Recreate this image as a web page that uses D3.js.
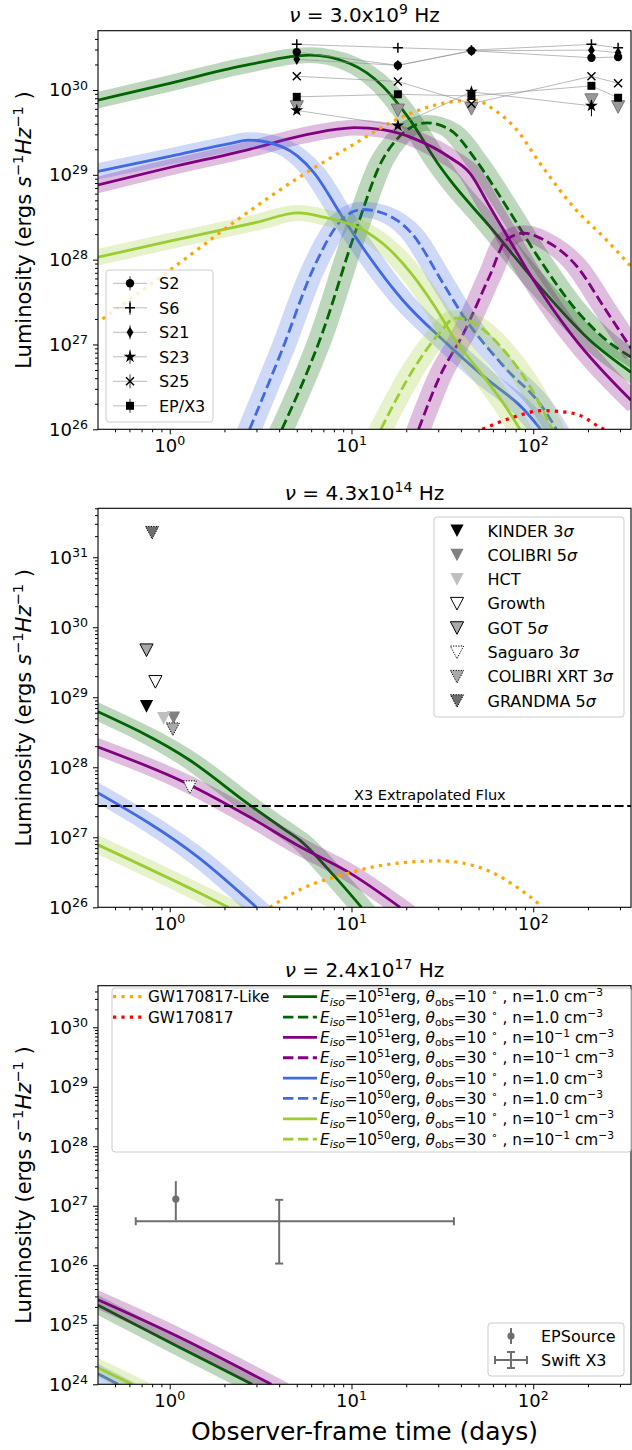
<!DOCTYPE html>
<html>
<head>
<meta charset="utf-8">
<script src="https://cdn.jsdelivr.net/npm/d3@7"></script>
<style>
  body { margin: 0; background: #fff; }
  text { font-family: "DejaVu Sans", sans-serif; fill: #000; }
</style>
</head>
<body>
<svg id="fig" width="632" height="1450"></svg>
<script>
// ---------------- data (time in days, luminosity in erg/s/Hz) ----------------
var xDomain = [0.403, 345];
var xTickExp = [0, 1, 2];

// radio 3 GHz models
var R_E51_10_n1  = [[0.403,7.6e29],[1,1.2e30],[2.75,2.0e30],[5.9,2.57e30],[9.8,2.05e30],[14.9,1.1e30],[20.9,4.5e29],[30.6,1.26e29],[34.8,8.7e28],[57.7,2.45e28],[108.6,4.8e27],[205,1.12e27],[345,4.7e26]];
var R_E51_30_n1  = [[4.14,1e26],[6.9,1.35e27],[10.4,2.0e28],[14.8,1.5e29],[17.7,2.6e29],[22.8,3.9e29],[25.9,4.1e29],[34.8,3.4e29],[48.8,1.45e29],[71.3,4.2e28],[108.6,1.0e28],[166,2.8e27],[253,1.12e27],[345,7.1e26]];
var R_E51_10_n01 = [[0.403,7.6e28],[1,1.22e29],[2.75,2.0e29],[5,2.8e29],[8,3.4e29],[10.4,3.6e29],[14.8,3.4e29],[22.8,2.6e29],[34.8,1.6e29],[44.8,1.05e29],[57.7,4.2e28],[69,2.2e28],[100,5.8e27],[166,1.23e27],[345,2.2e26]];
var R_E51_30_n01 = [[23.4,1e26],[30.6,4.2e26],[41.3,1.35e27],[57.7,6.5e27],[71,1.7e28],[89,2.05e28],[115,1.7e28],[174,8.3e27],[245,2.75e27],[345,9.0e26]];
var R_E50_10_n1  = [[0.403,1.1e29],[1,1.65e29],[2.2,2.36e29],[2.7,2.57e29],[4.14,2.15e29],[6.24,1.05e29],[8.9,3.2e28],[11.5,1.4e28],[19.2,3.3e27],[32,1.12e27],[53.3,4.2e26],[89,1.7e26],[110,1e26]];
var R_E50_30_n1  = [[2.75,1e26],[4.14,8.5e26],[6.24,8.3e27],[8.9,3.0e28],[11.5,3.9e28],[14.8,3.55e28],[21.4,2.05e28],[32,5.2e27],[41.3,2.15e27],[69,5.5e26],[115,1.7e26],[134,1e26]];
var R_E50_10_n01 = [[0.403,1.07e28],[1,1.65e28],[3,2.75e28],[5.1,3.55e28],[6.9,3.2e28],[11.5,2.25e28],[15.7,1.4e28],[21.3,6.9e27],[28.9,2.75e27],[37.3,1.12e27],[53.3,4.2e26],[72.4,1.7e26],[84.5,1e26]];
var R_E50_30_n01 = [[14.5,1e26],[22.4,5.5e26],[30.4,1.35e27],[37.3,2.05e27],[45.7,1.85e27],[69,8.5e26],[98.6,2.9e26],[127,1e26]];
var R_GWlike = [[0.427,2.0e27],[1.05,8.1e27],[2.48,3.2e28],[5.2,9.5e28],[9.8,2.15e29],[18.5,4.7e29],[34.7,7.2e29],[48.8,7.6e29],[57.7,6.3e29],[71.3,4.5e29],[81,3.4e29],[108.6,1.38e29],[166,4.2e28],[253,1.7e28],[345,8.3e27]];
var R_GW = [[52.5,1e26],[79.4,1.41e26],[112,1.66e26],[141,1.62e26],[182,1.45e26],[234,1.05e26],[245,1e26]];

// optical models
var O_E51_10_n1  = [[0.403,6.2e28],[1.29,1.26e28],[2.75,2.9e27],[4.17,1.35e27],[5.19,9.1e26],[7.94,2.9e26],[11.35,1e26]];
var O_E51_10_n01 = [[0.403,1.95e28],[1.29,5.6e27],[2.75,1.95e27],[5.19,7.4e26],[9.77,3.1e26],[18.5,1e26]];
var O_E50_10_n1  = [[0.403,4.3e27],[1.46,5.0e26],[3.0,1e26]];
var O_E50_10_n01 = [[0.403,7.8e26],[1.46,1.6e26],[2.1,1e26]];
var O_GWlike = [[3.55,1e26],[5.19,1.78e26],[9.77,3.1e26],[14.8,4.0e26],[30.6,4.6e26],[52.5,3.6e26],[81,1.95e26],[109,1.07e26],[112,1e26]];

// X-ray models
var X_E51_10_n1  = [[0.403,2.14e25],[1.08,4.5e24],[2.84,1e24]];
var X_E51_10_n01 = [[0.403,2.63e25],[1.08,6.6e24],[3.62,1e24]];
var X_E50_10_n1  = [[0.403,1.5e24],[0.52,1e24]];
var X_E50_10_n01 = [[0.403,1.9e24],[0.62,1e24]];

// model labels
var modelE     = ["51", "51", "51", "51", "50", "50", "50", "50"];
var modelTheta = ["10", "30", "10", "30", "10", "30", "10", "30"];
var modelN     = ["1.0", "1.0", "-1", "-1", "1.0", "1.0", "-1", "-1"];
var modelColor = ["#006400", "#006400", "#800080", "#800080", "#4169e1", "#4169e1", "#9acd32", "#9acd32"];
var modelDash  = [false, true, false, true, false, true, false, true];

// radio detections
var radioT  = [5.0, 18, 45.7, 209, 293];
var S2      = [2.8e30, 1.95e30, 2.9e30, 2.4e30, 2.45e30];
var S6      = [3.45e30, 3.15e30, 2.95e30, 3.45e30, 3.15e30];
var S21     = [2.3e30, 1.95e30, 2.9e30, 2.95e30, 2.75e30];
var S23     = [5.75e29, 3.8e29, 9.5e29, 6.5e29, null];
var S25     = [1.45e30, 1.26e30, 6.9e29, 1.45e30, 1.2e30];
var EPX3    = [8.3e29, 8.9e29, 8.5e29, 1.12e30, 8.1e29];
var S23lo   = [null, null, null, 4.9e29, null];
var S23hi   = [null, null, null, 7.6e29, null];
var radioUL = [6.3e29, 5.75e29, 6.0e29, 7.6e29, 6.3e29];
var radioNames = ["S2", "S6", "S21", "S23", "S25", "EP/X3"];

// optical upper limits
var optNames = ["KINDER 3σ", "COLIBRI 5σ", "HCT", "Growth", "GOT 5σ", "Saguaro 3σ", "COLIBRI XRT 3σ", "GRANDMA 5σ"];
var optT     = [0.745, 1.05, 0.926, 0.834, 0.745, 1.29, 1.04, 0.80];
var optL     = [7.4e28, 5.1e28, 5.0e28, 1.66e29, 4.7e29, 5.2e27, 3.5e28, 2.24e31];
var x3Flux   = 2.8e27;

// X-ray points
var epT = 1.08, epL = 1.3e27, epLo = 5.75e26, epHi = 2.6e27;
var swT = 4.0, swTLo = 0.65, swTHi = 36.6, swL = 5.5e26, swLLo = 1.07e26, swLHi = 1.26e27;

// ---------------- drawing ----------------
var svg = d3.select("#fig");
svg.append("rect").attr("width", 632).attr("height", 1450).attr("fill", "#fff");

var x = d3.scaleLog().domain(xDomain).range([98, 631]);
var bandK = 1.55;   // bands are a bit wider sideways than up/down

// text with super/subscripts as tspans
function rich(t, parts, fs) {
  var cur = 0;
  parts.forEach(function(p) {
    var st = (p[1] || "").split(" ");
    var sup = st.indexOf("sup") >= 0, sub = st.indexOf("sub") >= 0;
    var target = sup ? -0.38 * fs : sub ? 0.22 * fs : 0;
    var ts = t.append("tspan").text(p[0]);
    if (target !== cur) ts.attr("dy", target - cur);
    if (sup || sub) ts.attr("font-size", 0.7 * fs);
    if (st.indexOf("i") >= 0) ts.attr("font-style", "italic");
    cur = target;
  });
  return t;
}
function label(g, px, py, parts, fs, anchor) {
  var t = g.append("text").attr("x", px).attr("y", py).attr("font-size", fs)
    .attr("text-anchor", anchor || "start").style("white-space", "pre");
  return rich(t, parts, fs);
}
function sigmaParts(name) {
  var i = name.indexOf("σ");
  return i < 0 ? [[name]] : [[name.slice(0, i)], ["σ", "i"]];
}

var markerPath = {
  circle: d3.symbol(d3.symbolCircle, 55)(),
  square: d3.symbol(d3.symbolSquare, 64)(),
  star: d3.symbol(d3.symbolStar, 50)(),
  diamond: "M0,-5.6L3.4,0L0,5.6L-3.4,0Z",
  plus: "M-5,0H5M0,-5V5",
  x: "M-4,-4L4,4M-4,4L4,-4",
  tri: "M-6.6,-6.3L6.6,-6.3L0,6.3Z"
};
function marker(g, type, cx, cy, fill, stroke, dotted) {
  var m = g.append("path").attr("d", markerPath[type]).attr("transform", "translate(" + cx + "," + cy + ")");
  if (type === "plus" || type === "x") {
    m.attr("fill", "none").attr("stroke", "#000").attr("stroke-width", 1.5);
  } else {
    m.attr("fill", fill || "#000").attr("stroke", stroke || "none").attr("stroke-width", 1);
    if (dotted) m.attr("stroke-dasharray", "1.3,1.3");
  }
  return m;
}

var panels = [
  {top: 30.7, bottom: 429.3, yDomain: [1e26, 5e30], title: [["ν", "i"], [" = 3.0x10"], ["9", "sup"], [" Hz"]],
   models: [R_E51_10_n1, R_E51_30_n1, R_E51_10_n01, R_E51_30_n01, R_E50_10_n1, R_E50_30_n1, R_E50_10_n01, R_E50_30_n01],
   gwlike: R_GWlike, gw: R_GW},
  {top: 508.3, bottom: 907.3, yDomain: [1e26, 5e31], title: [["ν", "i"], [" = 4.3x10"], ["14", "sup"], [" Hz"]],
   models: [O_E51_10_n1, null, O_E51_10_n01, null, O_E50_10_n1, null, O_E50_10_n01, null],
   gwlike: O_GWlike, gw: null},
  {top: 985.7, bottom: 1384.3, yDomain: [1e24, 5e30], title: [["ν", "i"], [" = 2.4x10"], ["17", "sup"], [" Hz"]],
   models: [X_E51_10_n1, null, X_E51_10_n01, null, X_E50_10_n1, null, X_E50_10_n01, null],
   gwlike: null, gw: null}
];

panels.forEach(function(p, pi) {
  var y = d3.scaleLog().domain(p.yDomain).range([p.bottom, p.top]);
  p.y = y;
  var g = svg.append("g");
  var line = d3.line().x(function(d) { return x(d[0]); }).y(function(d) { return y(d[1]); }).curve(d3.curveMonotoneX);
  var bandLine = d3.line().x(function(d) { return x(d[0]) / bandK; }).y(function(d) { return y(d[1]); }).curve(d3.curveMonotoneX);

  svg.append("clipPath").attr("id", "clip" + pi).append("rect")
    .attr("x", x.range()[0]).attr("y", p.top).attr("width", x.range()[1] - x.range()[0]).attr("height", p.bottom - p.top);
  var plot = g.append("g").attr("clip-path", "url(#clip" + pi + ")");
  p.plot = plot;

  // afterglow models: shaded band + line
  p.models.forEach(function(data, mi) {
    if (!data) return;
    plot.append("g").attr("transform", "scale(" + bandK + ",1)")
      .append("path").datum(data).attr("d", bandLine).attr("fill", "none")
      .attr("stroke", modelColor[mi]).attr("stroke-width", 15.7).attr("stroke-linecap", "square")
      .attr("stroke-linejoin", "round").attr("opacity", 0.26);
    plot.append("path").datum(data).attr("d", line).attr("fill", "none")
      .attr("stroke", modelColor[mi]).attr("stroke-width", 2.8)
      .attr("stroke-dasharray", modelDash[mi] ? "10.4,4.5" : null);
  });
  if (p.gwlike) {
    plot.append("path").datum(p.gwlike).attr("d", line).attr("fill", "none")
      .attr("stroke", "#ffa500").attr("stroke-width", 3.2).attr("stroke-dasharray", "3.2,5.2");
  }
  if (p.gw) {
    plot.append("path").datum(p.gw).attr("d", line).attr("fill", "none")
      .attr("stroke", "#ff0000").attr("stroke-width", 3.2).attr("stroke-dasharray", "3.2,5.2");
  }

  // frame
  g.append("rect").attr("x", x.range()[0]).attr("y", p.top)
    .attr("width", x.range()[1] - x.range()[0]).attr("height", p.bottom - p.top)
    .attr("fill", "none").attr("stroke", "#000").attr("stroke-width", 1.1);

  // x ticks
  var xMajor = xTickExp.map(function(e) { return Math.pow(10, e); });
  var xMinor = [];
  for (var e = -1; e <= 2; e++) for (var m = 2; m <= 9; m++) {
    var v = m * Math.pow(10, e);
    if (v > xDomain[0] && v < xDomain[1]) xMinor.push(v);
  }
  var ax = g.append("g").attr("transform", "translate(0," + p.bottom + ")")
    .call(d3.axisBottom(x).tickValues(xMajor).tickSize(5).tickSizeOuter(0).tickFormat(function() { return ""; }));
  var axm = g.append("g").attr("transform", "translate(0," + p.bottom + ")")
    .call(d3.axisBottom(x).tickValues(xMinor).tickSize(3).tickSizeOuter(0).tickFormat(function() { return ""; }));
  xTickExp.forEach(function(e) {
    label(g, x(Math.pow(10, e)), p.bottom + 23, [["10"], [String(e), "sup"]], 18, "middle");
  });

  // y ticks
  var lo = Math.round(Math.log10(p.yDomain[0])), hi = Math.floor(Math.log10(p.yDomain[1]));
  var yExp = d3.range(lo, hi + 1);
  var yMinor = [];
  for (var e2 = lo; e2 <= hi; e2++) for (var m2 = 2; m2 <= 9; m2++) {
    var v2 = m2 * Math.pow(10, e2);
    if (v2 < p.yDomain[1]) yMinor.push(v2);
  }
  var ay = g.append("g").attr("transform", "translate(" + x.range()[0] + ",0)")
    .call(d3.axisLeft(y).tickValues(yExp.map(function(e) { return Math.pow(10, e); })).tickSize(5).tickSizeOuter(0).tickFormat(function() { return ""; }));
  var aym = g.append("g").attr("transform", "translate(" + x.range()[0] + ",0)")
    .call(d3.axisLeft(y).tickValues(yMinor).tickSize(3).tickSizeOuter(0).tickFormat(function() { return ""; }));
  [ax, axm, ay, aym].forEach(function(a) {
    a.select(".domain").remove();
    a.selectAll("line").attr("stroke", "#000").attr("stroke-width", 1);
  });
  yExp.forEach(function(e) {
    label(g, 88, y(Math.pow(10, e)) + 6.5, [["10"], [String(e), "sup"]], 18, "end");
  });

  // title and y label
  label(g, 364.5, p.top - 8.7, p.title, 20, "middle");
  var yl = g.append("text").attr("transform", "translate(31," + ((p.top + p.bottom) / 2) + ") rotate(-90)")
    .attr("font-size", 21).attr("text-anchor", "middle").style("white-space", "pre");
  rich(yl, [["Luminosity (ergs "], ["s", "i"], ["−1", "sup"], ["Hz", "i"], ["−1", "sup"], [" )"]], 21);
  p.g = g;
});

// ---------- panel 1 : radio detections ----------
(function() {
  var p = panels[0], y = p.y, g = p.g;
  var series = [S2, S6, S21, S23, S25, EPX3];
  var types = ["circle", "plus", "diamond", "star", "x", "square"];
  var conn = d3.line().x(function(d) { return x(d[0]); }).y(function(d) { return y(d[1]); });
  series.forEach(function(s) {
    g.append("path").datum(radioT.map(function(t, i) { return [t, s[i]]; }).filter(function(d) { return d[1] != null; }))
      .attr("d", conn).attr("fill", "none").attr("stroke", "#8c8c8c").attr("stroke-width", 0.6);
  });
  radioT.forEach(function(t, i) {
    marker(g, "tri", x(t), y(radioUL[i]), "#999", "#777");
  });
  radioT.forEach(function(t, i) {
    if (S23lo[i] != null) {
      g.append("line").attr("x1", x(t)).attr("x2", x(t)).attr("y1", y(S23lo[i])).attr("y2", y(S23hi[i]))
        .attr("stroke", "#000").attr("stroke-width", 1);
    }
  });
  series.forEach(function(s, si) {
    radioT.forEach(function(t, i) {
      if (s[i] != null) marker(g, types[si], x(t), y(s[i]));
    });
  });

  // legend
  var lg = g.append("g");
  lg.append("rect").attr("x", 106).attr("y", 270).attr("width", 107).attr("height", 152).attr("rx", 3)
    .attr("fill", "#fff").attr("fill-opacity", 0.8).attr("stroke", "#ccc");
  radioNames.forEach(function(n, i) {
    var cy = 283.3 + i * 24.5;
    lg.append("line").attr("x1", 113).attr("x2", 147).attr("y1", cy).attr("y2", cy)
      .attr("stroke", "#8c8c8c").attr("stroke-width", 0.6);
    lg.append("line").attr("x1", 130).attr("x2", 130).attr("y1", cy - 7).attr("y2", cy + 7)
      .attr("stroke", "#000").attr("stroke-width", 0.8);
    marker(lg, types[i], 130, cy);
    label(lg, 159, cy + 5.8, [[n]], 16);
  });
})();

// ---------- panel 2 : optical upper limits ----------
(function() {
  var p = panels[1], y = p.y, g = p.g;
  var fills   = ["#000", "#808080", "#bfbfbf", "#fff", "#a9a9a9", "#fff", "#a9a9a9", "#6e6e6e"];
  var strokes = [null, null, null, "#000", "#000", "#000", "#000", "#000"];
  var dotted  = [false, false, false, false, false, true, true, true];

  p.plot.append("line").attr("x1", x.range()[0]).attr("x2", x.range()[1])
    .attr("y1", y(x3Flux)).attr("y2", y(x3Flux))
    .attr("stroke", "#000").attr("stroke-width", 2).attr("stroke-dasharray", "9,3.6");
  label(g, x(27), y(x3Flux) - 6, [["X3 Extrapolated Flux"]], 14.5, "middle");

  optT.forEach(function(t, i) {
    marker(g, "tri", x(t), y(optL[i]), fills[i], strokes[i], dotted[i]);
  });

  var lg = g.append("g");
  lg.append("rect").attr("x", 434).attr("y", 517).attr("width", 190).attr("height", 200).attr("rx", 3)
    .attr("fill", "#fff").attr("fill-opacity", 0.8).attr("stroke", "#ccc");
  optNames.forEach(function(n, i) {
    var cy = 530.7 + i * 24.33;
    marker(lg, "tri", 457, cy, fills[i], strokes[i], dotted[i]);
    label(lg, 487.5, cy + 5.8, sigmaParts(n), 16);
  });
})();

// ---------- panel 3 : X-ray points ----------
(function() {
  var p = panels[2], y = p.y, g = p.g;
  var grey = "#6e6e6e";
  // Swift X3
  g.append("line").attr("x1", x(swTLo)).attr("x2", x(swTHi)).attr("y1", y(swL)).attr("y2", y(swL))
    .attr("stroke", grey).attr("stroke-width", 2);
  g.append("line").attr("x1", x(swT)).attr("x2", x(swT)).attr("y1", y(swLLo)).attr("y2", y(swLHi))
    .attr("stroke", grey).attr("stroke-width", 2);
  [[x(swTLo), y(swL), 0], [x(swTHi), y(swL), 0], [x(swT), y(swLLo), 1], [x(swT), y(swLHi), 1]].forEach(function(c) {
    if (c[2]) g.append("line").attr("x1", c[0] - 4).attr("x2", c[0] + 4).attr("y1", c[1]).attr("y2", c[1]).attr("stroke", grey).attr("stroke-width", 2);
    else g.append("line").attr("x1", c[0]).attr("x2", c[0]).attr("y1", c[1] - 4).attr("y2", c[1] + 4).attr("stroke", grey).attr("stroke-width", 2);
  });
  // EP source
  g.append("line").attr("x1", x(epT)).attr("x2", x(epT)).attr("y1", y(epLo)).attr("y2", y(epHi))
    .attr("stroke", grey).attr("stroke-width", 2);
  g.append("circle").attr("cx", x(epT)).attr("cy", y(epL)).attr("r", 3.6).attr("fill", grey);

  // model legend (upper)
  var lg = g.append("g");
  lg.append("rect").attr("x", 112).attr("y", 988).attr("width", 519).attr("height", 164).attr("rx", 3)
    .attr("fill", "#fff").attr("fill-opacity", 0.8).attr("stroke", "#ccc");
  var rowY = function(i) { return 996.7 + i * 20.35; };
  [["GW170817-Like", "#ffa500"], ["GW170817", "#ff0000"]].forEach(function(d, i) {
    lg.append("line").attr("x1", 113).attr("x2", 146).attr("y1", rowY(i)).attr("y2", rowY(i))
      .attr("stroke", d[1]).attr("stroke-width", 3.2).attr("stroke-dasharray", "3.2,5.2");
    label(lg, 148, rowY(i) + 5.5, [[d[0]]], 15.3);
  });
  modelE.forEach(function(e, i) {
    var cy = rowY(i);
    lg.append("line").attr("x1", 283).attr("x2", 317).attr("y1", cy).attr("y2", cy)
      .attr("stroke", modelColor[i]).attr("stroke-width", 2.8)
      .attr("stroke-dasharray", modelDash[i] ? "10.4,4.5" : null);
    var parts = [["E", "i"], ["iso", "i sub"], ["=10"], [e, "sup"], ["erg, "], ["θ", "i"], ["obs", "sub"],
                 ["=" + modelTheta[i] + " "], ["∘", "sup"], [" , n="]];
    if (modelN[i] === "-1") parts = parts.concat([["10"], ["−1", "sup"], [" cm"], ["−3", "sup"]]);
    else parts = parts.concat([[modelN[i] + " cm"], ["−3", "sup"]]);
    label(lg, 320, cy + 5.5, parts, 15.3);
  });

  // data legend (lower right)
  var lg2 = g.append("g");
  lg2.append("rect").attr("x", 488).attr("y", 1323).attr("width", 136).attr("height", 53).attr("rx", 3)
    .attr("fill", "#fff").attr("fill-opacity", 0.8).attr("stroke", "#ccc");
  lg2.append("line").attr("x1", 511).attr("x2", 511).attr("y1", 1328).attr("y2", 1344).attr("stroke", grey).attr("stroke-width", 2);
  lg2.append("circle").attr("cx", 511).attr("cy", 1336).attr("r", 3.6).attr("fill", grey);
  label(lg2, 541, 1341.8, [["EPSource"]], 16);
  lg2.append("line").attr("x1", 495).attr("x2", 527).attr("y1", 1360).attr("y2", 1360).attr("stroke", grey).attr("stroke-width", 2);
  lg2.append("line").attr("x1", 511).attr("x2", 511).attr("y1", 1352).attr("y2", 1368).attr("stroke", grey).attr("stroke-width", 2);
  [495, 527].forEach(function(cx) {
    lg2.append("line").attr("x1", cx).attr("x2", cx).attr("y1", 1356).attr("y2", 1364).attr("stroke", grey).attr("stroke-width", 2);
  });
  [1352, 1368].forEach(function(cy) {
    lg2.append("line").attr("x1", 507).attr("x2", 515).attr("y1", cy).attr("y2", cy).attr("stroke", grey).attr("stroke-width", 2);
  });
  label(lg2, 541, 1365.8, [["Swift X3"]], 16);

  // x label
  label(g, 364.5, 1440, [["Observer-frame time (days)"]], 25, "middle");
})();
</script>
</body>
</html>
